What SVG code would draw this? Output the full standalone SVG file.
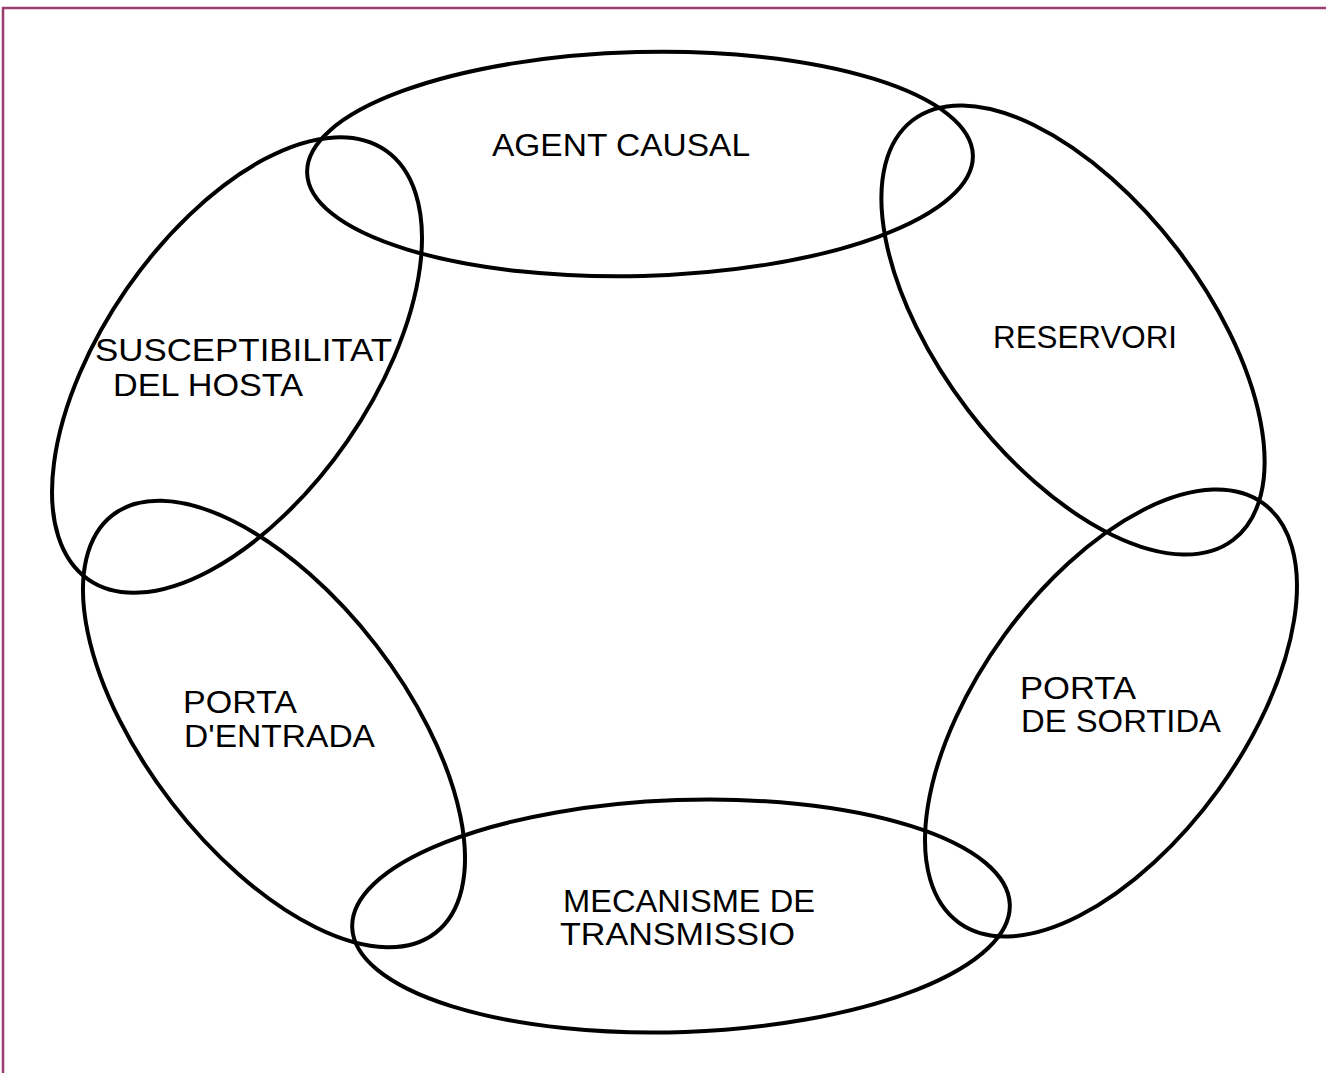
<svg xmlns="http://www.w3.org/2000/svg" width="1326" height="1073" viewBox="0 0 1326 1073">
<style>
.ring{fill:none;stroke:#000;stroke-width:4}
.lbl{font-family:"Liberation Sans",Arial,sans-serif;font-size:32px;fill:#000}
</style>
<rect x="0" y="0" width="1326" height="1073" fill="#fff"/>
<rect x="3" y="8" width="1340" height="1090" fill="none" stroke="#9b3c6e" stroke-width="2.5"/>
<g id="connectors"></g>
<g id="agent-causal">
<ellipse class="ring" cx="640" cy="164" rx="333" ry="112" transform="rotate(-1.5 640 164)"/>
<text class="lbl" x="492" y="156" textLength="258" lengthAdjust="spacingAndGlyphs">AGENT CAUSAL</text>
</g>
<g id="reservori">
<ellipse class="ring" cx="1073" cy="330" rx="264" ry="132" transform="rotate(52.6 1073 330)"/>
<text class="lbl" x="993" y="348" textLength="184" lengthAdjust="spacingAndGlyphs">RESERVORI</text>
</g>
<g id="porta-sortida">
<ellipse class="ring" cx="1111" cy="713" rx="259" ry="132" transform="rotate(-54 1111 713)"/>
<text class="lbl" x="1020" y="699" textLength="116" lengthAdjust="spacingAndGlyphs">PORTA</text>
<text class="lbl" x="1021" y="732" textLength="200" lengthAdjust="spacingAndGlyphs">DE SORTIDA</text>
</g>
<g id="mecanisme-transmissio">
<ellipse class="ring" cx="681" cy="916" rx="329" ry="116" transform="rotate(-2 681 916)"/>
<text class="lbl" x="563" y="912" textLength="252" lengthAdjust="spacingAndGlyphs">MECANISME DE</text>
<text class="lbl" x="560" y="945" textLength="235" lengthAdjust="spacingAndGlyphs">TRANSMISSIO</text>
</g>
<g id="porta-entrada">
<ellipse class="ring" cx="274" cy="724" rx="264" ry="129" transform="rotate(52.3 274 724)"/>
<text class="lbl" x="183" y="713" textLength="114" lengthAdjust="spacingAndGlyphs">PORTA</text>
<text class="lbl" x="184" y="747" textLength="191" lengthAdjust="spacingAndGlyphs">D'ENTRADA</text>
</g>
<g id="susceptibilitat-hosta">
<ellipse class="ring" cx="237" cy="365" rx="261" ry="134" transform="rotate(-55.3 237 365)"/>
<text class="lbl" x="95" y="361" textLength="297" lengthAdjust="spacingAndGlyphs">SUSCEPTIBILITAT</text>
<text class="lbl" x="113" y="396" textLength="190" lengthAdjust="spacingAndGlyphs">DEL HOSTA</text>
</g>
</svg>
